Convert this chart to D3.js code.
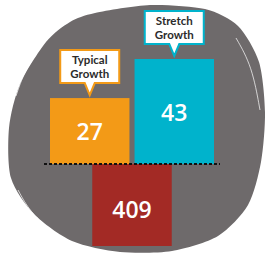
<!DOCTYPE html>
<html>
<head>
<meta charset="utf-8">
<script src="https://cdn.jsdelivr.net/npm/d3@7"></script>
<style>
  html, body { margin: 0; padding: 0; background: #fff; }
  svg { display: block; }
  .callout-text { font-family: Lato, "Open Sans", sans-serif; font-weight: 700; font-size: 11.5px; fill: #2b2b2b; }
  .bar-value { font-family: "Open Sans", sans-serif; font-weight: 600; font-size: 23px; fill: #fff; }
</style>
</head>
<body>
<svg id="chart"></svg>
<script>
const categories = ["Typical Growth", "Stretch Growth"];
const growthValues = [27, 43];
const currentLabel = "Current";
const currentValue = [409];

const width = 266;
const height = 255;

const colors = new Map();
colors.set("Typical Growth", "#f39a17");
colors.set("Stretch Growth", "#00b3cc");
colors.set("Current", "#a32a25");

const svg = d3.select("#chart").attr("width", width).attr("height", height);

// gray blob behind the bars
const blobPoints = [
  [95, 13], [150, 5], [205, 9], [238, 26], [259, 62], [265, 112], [261, 162],
  [248, 205], [218, 236], [172, 251], [120, 252], [72, 241], [34, 214],
  [11, 178], [9, 128], [20, 84], [46, 42], [70, 22]
];
svg.append("path")
  .attr("d", d3.line().curve(d3.curveCardinalClosed.tension(0.2))(blobPoints))
  .attr("fill", "#6e6a6b");

// a few white streaks round the edge
const streaks = [
  [[16, 96], [24, 72], [40, 48]],
  [[236, 38], [252, 66], [260, 110]],
  [[18, 190], [30, 212], [52, 232]]
];
svg.selectAll(".streak")
  .data(streaks)
  .join("path")
  .attr("d", (d) => d3.line().curve(d3.curveBasis)(d))
  .attr("fill", "none")
  .attr("stroke", "#fff")
  .attr("stroke-opacity", 0.7)
  .attr("stroke-width", 1);

const x = d3.scaleBand().domain(categories).range([50, 214]).paddingInner(0.06);
const y = d3.scaleLinear().domain([0, 43]).range([164, 59]);
const yLow = d3.scaleLinear().domain([0, 409]).range([164, 246]);

const data = categories.map((c, i) => ({ name: c, value: growthValues[i] }));

svg.append("g")
  .selectAll("rect")
  .data(data)
  .join("rect")
  .attr("x", (d) => x(d.name))
  .attr("y", (d) => y(d.value))
  .attr("width", x.bandwidth())
  .attr("height", (d) => y(0) - y(d.value))
  .attr("fill", (d) => colors.get(d.name));

const midX = (x(categories[0]) + x(categories[1]) + x.bandwidth()) / 2;

svg.append("g")
  .selectAll("rect")
  .data(currentValue)
  .join("rect")
  .attr("x", midX - x.bandwidth() / 2)
  .attr("y", yLow(0))
  .attr("width", x.bandwidth())
  .attr("height", (d) => yLow(d) - yLow(0))
  .attr("fill", colors.get(currentLabel));

// value labels
svg.append("g")
  .selectAll("text")
  .data(data)
  .join("text")
  .attr("class", "bar-value")
  .attr("x", (d) => x(d.name) + x.bandwidth() / 2)
  .attr("y", (d) => (y(d.value) + y(0)) / 2)
  .attr("text-anchor", "middle")
  .attr("dominant-baseline", "central")
  .text((d) => d.value);

svg.append("g")
  .selectAll("text")
  .data(currentValue)
  .join("text")
  .attr("class", "bar-value")
  .attr("x", midX)
  .attr("y", (d) => (yLow(0) + yLow(d)) / 2 + 4)
  .attr("text-anchor", "middle")
  .attr("dominant-baseline", "central")
  .text((d) => d);

// dashed baseline
svg.append("line")
  .attr("x1", 44)
  .attr("x2", 220)
  .attr("y1", y(0))
  .attr("y2", y(0))
  .attr("stroke", "#111")
  .attr("stroke-width", 2)
  .attr("stroke-dasharray", "3,2");

// callouts
const boxW = 59, boxH = 33;
const callout = (d) => {
  const cx = x(d.name) + x.bandwidth() / 2;
  const bottom = y(d.value) - 15;
  const top = bottom - boxH;
  const l = cx - boxW / 2, r = cx + boxW / 2;
  const p = d3.path();
  p.moveTo(l, top);
  p.lineTo(r, top);
  p.lineTo(r, bottom);
  p.lineTo(cx + 5, bottom);
  p.lineTo(cx, y(d.value) - 3);
  p.lineTo(cx - 5, bottom);
  p.lineTo(l, bottom);
  p.closePath();
  return p.toString();
};

const callouts = svg.append("g")
  .selectAll("g")
  .data(data)
  .join("g");

callouts.append("path")
  .attr("d", callout)
  .attr("fill", "#fff")
  .attr("stroke", (d) => colors.get(d.name))
  .attr("stroke-width", 2)
  .attr("stroke-linejoin", "miter");

const labels = callouts.append("text")
  .attr("class", "callout-text")
  .attr("text-anchor", "middle");

labels.selectAll("tspan")
  .data((d) => d.name.split(" ").map((w, i) => ({ w, i, d })))
  .join("tspan")
  .attr("x", (t) => x(t.d.name) + x.bandwidth() / 2)
  .attr("y", (t) => y(t.d.value) - 15 - boxH + 13.5 + t.i * 14)
  .text((t) => t.w);
</script>
</body>
</html>
